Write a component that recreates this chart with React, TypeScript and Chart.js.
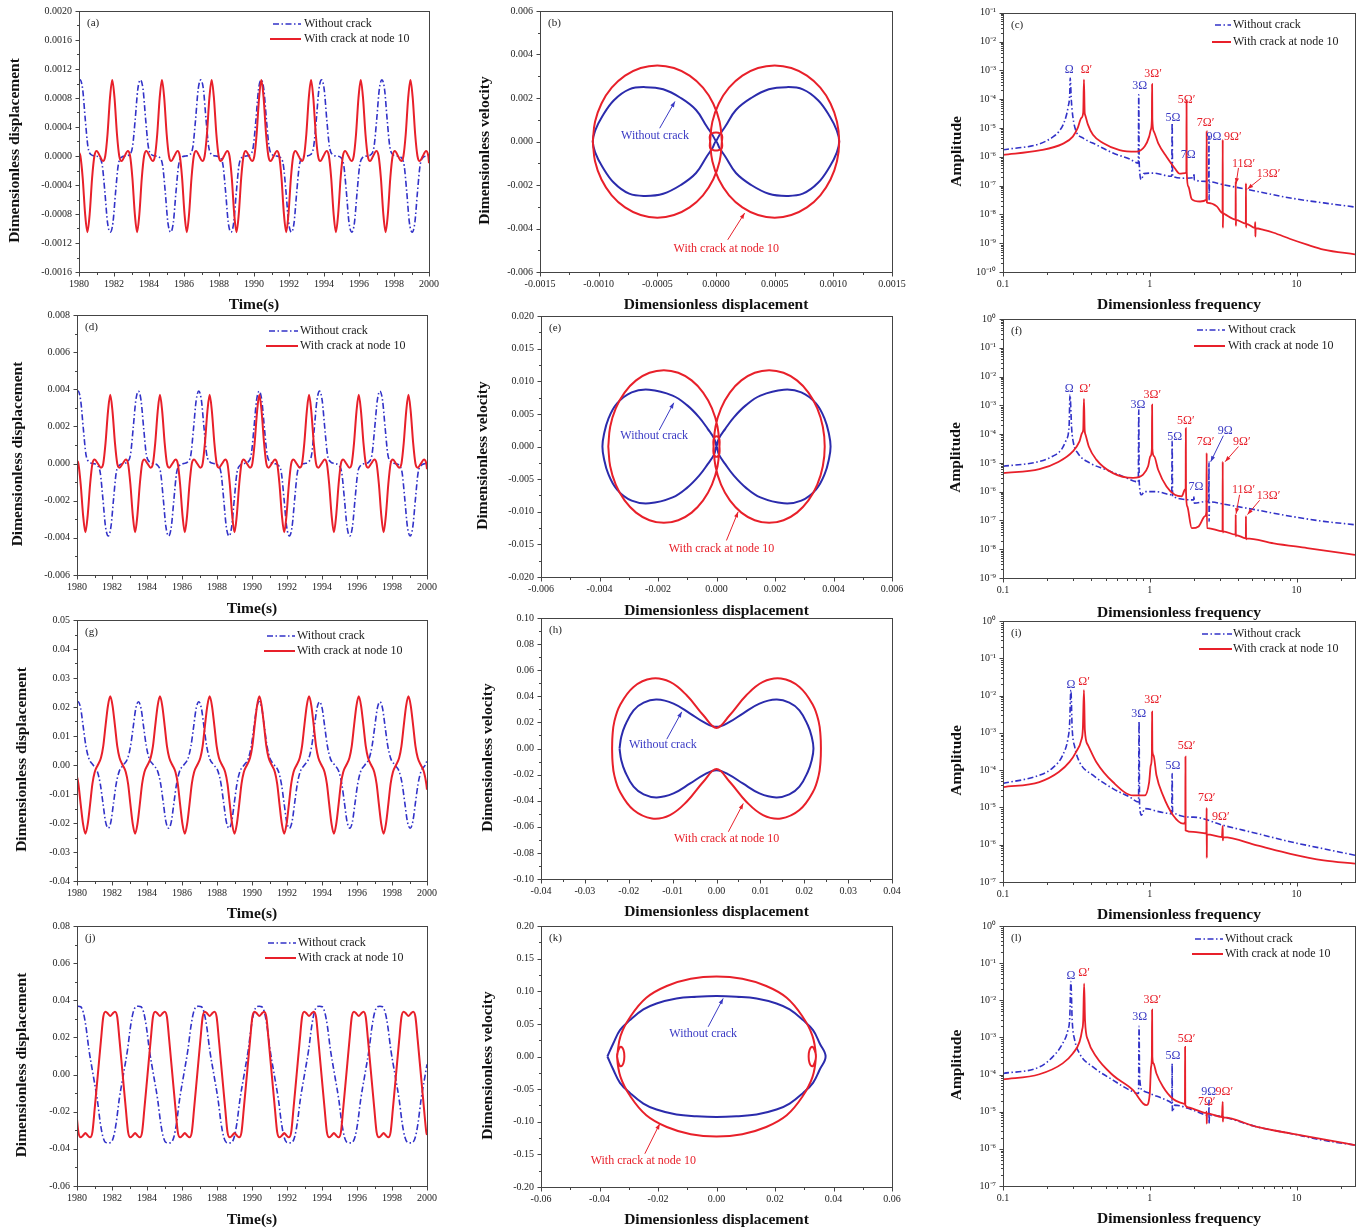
import React, { useEffect, useRef } from 'react';
import { Chart, registerables } from 'chart.js';

Chart.register(...registerables);

const SERIF = "'Liberation Serif', 'Times New Roman', Times, serif";
const BLUE = '#3232c8';
const BLUE_SOLID = '#2b2bac';
const RED = '#e8202a';
const FRAME = '#444';
const DASH_DOT = [6, 2.5, 1.5, 2.5];
const LEGEND_BLUE = 'Without crack';
const LEGEND_RED = 'With crack at node 10';

// ---------------- tick values ----------------
const timeTicks = [1980, 1982, 1984, 1986, 1988, 1990, 1992, 1994, 1996, 1998, 2000];
const freqTicks = [0.1, 1, 10];
const aYTicks = [-0.0016, -0.0012, -0.0008, -0.0004, 0, 0.0004, 0.0008, 0.0012, 0.0016, 0.002];
const bXTicks = [-0.0015, -0.001, -0.0005, 0, 0.0005, 0.001, 0.0015];
const bYTicks = [-0.006, -0.004, -0.002, 0, 0.002, 0.004, 0.006];
const cYTicks = [1e-10, 1e-9, 1e-8, 1e-7, 1e-6, 1e-5, 1e-4, 1e-3, 1e-2, 1e-1];
const dYTicks = [-0.006, -0.004, -0.002, 0, 0.002, 0.004, 0.006, 0.008];
const eXTicks = [-0.006, -0.004, -0.002, 0, 0.002, 0.004, 0.006];
const eYTicks = [-0.02, -0.015, -0.01, -0.005, 0, 0.005, 0.01, 0.015, 0.02];
const fYTicks = [1e-9, 1e-8, 1e-7, 1e-6, 1e-5, 1e-4, 1e-3, 1e-2, 1e-1, 1];
const gYTicks = [-0.04, -0.03, -0.02, -0.01, 0, 0.01, 0.02, 0.03, 0.04, 0.05];
const hXTicks = [-0.04, -0.03, -0.02, -0.01, 0, 0.01, 0.02, 0.03, 0.04];
const hYTicks = [-0.1, -0.08, -0.06, -0.04, -0.02, 0, 0.02, 0.04, 0.06, 0.08, 0.1];
const iYTicks = [1e-7, 1e-6, 1e-5, 1e-4, 1e-3, 1e-2, 1e-1, 1];
const jYTicks = [-0.06, -0.04, -0.02, 0, 0.02, 0.04, 0.06, 0.08];
const kXTicks = [-0.06, -0.04, -0.02, 0, 0.02, 0.04, 0.06];
const kYTicks = [-0.2, -0.15, -0.1, -0.05, 0, 0.05, 0.1, 0.15, 0.2];
const lYTicks = [1e-7, 1e-6, 1e-5, 1e-4, 1e-3, 1e-2, 1e-1, 1];

// ---------------- time series (a, d, g, j) ----------------
const redT = [
  1980.0, 1980.08, 1980.21, 1980.35,
  1980.48, 1980.61, 1980.75, 1980.88, 1981.01, 1981.19, 1981.37, 1981.5, 1981.63, 1981.77,
  1981.9, 1982.03, 1982.17, 1982.3, 1982.43, 1982.61, 1982.79, 1982.92, 1983.05, 1983.19,
  1983.32, 1983.45, 1983.59, 1983.72, 1983.85, 1984.03, 1984.21, 1984.34, 1984.47, 1984.61,
  1984.74, 1984.87, 1985.01, 1985.14, 1985.27, 1985.45, 1985.63, 1985.76, 1985.89, 1986.03,
  1986.16, 1986.29, 1986.43, 1986.56, 1986.69, 1986.87, 1987.05, 1987.18, 1987.31, 1987.45,
  1987.58, 1987.71, 1987.85, 1987.98, 1988.11, 1988.29, 1988.47, 1988.6, 1988.73, 1988.87,
  1989.0, 1989.13, 1989.27, 1989.4, 1989.53, 1989.71, 1989.89, 1990.02, 1990.15, 1990.29,
  1990.42, 1990.55, 1990.69, 1990.82, 1990.95, 1991.13, 1991.31, 1991.44, 1991.57, 1991.71,
  1991.84, 1991.97, 1992.11, 1992.24, 1992.37, 1992.55, 1992.73, 1992.86, 1992.99, 1993.13,
  1993.26, 1993.39, 1993.53, 1993.66, 1993.79, 1993.97, 1994.15, 1994.28, 1994.41, 1994.55,
  1994.68, 1994.81, 1994.95, 1995.08, 1995.21, 1995.39, 1995.57, 1995.7, 1995.83, 1995.97,
  1996.1, 1996.23, 1996.37, 1996.5, 1996.63, 1996.81, 1996.99, 1997.12, 1997.25, 1997.39,
  1997.52, 1997.65, 1997.79, 1997.92, 1998.05, 1998.23, 1998.41, 1998.54, 1998.67, 1998.81,
  1998.94, 1999.07, 1999.21, 1999.34, 1999.47, 1999.65, 1999.83, 1999.96, 2000.0,
];

const blueT = [
  1980.0,
  1980.06, 1980.21, 1980.36, 1980.51, 1980.68, 1980.92, 1981.16, 1981.33, 1981.48, 1981.63,
  1981.79, 1981.94, 1982.09, 1982.24, 1982.41, 1982.65, 1982.89, 1983.06, 1983.21, 1983.36,
  1983.51, 1983.66, 1983.81, 1983.96, 1984.13, 1984.37, 1984.61, 1984.78, 1984.93, 1985.08,
  1985.24, 1985.39, 1985.54, 1985.69, 1985.86, 1986.1, 1986.34, 1986.51, 1986.66, 1986.81,
  1986.96, 1987.11, 1987.26, 1987.41, 1987.58, 1987.82, 1988.06, 1988.23, 1988.38, 1988.53,
  1988.69, 1988.84, 1988.99, 1989.14, 1989.31, 1989.55, 1989.79, 1989.96, 1990.11, 1990.26,
  1990.41, 1990.56, 1990.71, 1990.86, 1991.03, 1991.27, 1991.51, 1991.68, 1991.83, 1991.98,
  1992.14, 1992.29, 1992.44, 1992.59, 1992.76, 1993.0, 1993.24, 1993.41, 1993.56, 1993.71,
  1993.86, 1994.01, 1994.16, 1994.31, 1994.48, 1994.72, 1994.96, 1995.13, 1995.28, 1995.43,
  1995.59, 1995.74, 1995.89, 1996.04, 1996.21, 1996.45, 1996.69, 1996.86, 1997.01, 1997.16,
  1997.31, 1997.46, 1997.61, 1997.76, 1997.93, 1998.17, 1998.41, 1998.58, 1998.73, 1998.88,
  1999.04, 1999.19, 1999.34, 1999.49, 1999.66, 1999.9, 2000.0,
];

const aRed = [
  0.00005, 0, -0.0003, -0.0008,
  -0.00105, -0.0008, -0.0003, 0, 0.00007, 0, -0.00007, 0, 0.0003, 0.0008,
  0.00105, 0.0008, 0.0003, 0, -0.00007, 0, 0.00007, 0, -0.0003, -0.0008,
  -0.00105, -0.0008, -0.0003, 0, 0.00007, 0, -0.00007, 0, 0.0003, 0.0008,
  0.00105, 0.0008, 0.0003, 0, -0.00007, 0, 0.00007, 0, -0.0003, -0.0008,
  -0.00105, -0.0008, -0.0003, 0, 0.00007, 0, -0.00007, 0, 0.0003, 0.0008,
  0.00105, 0.0008, 0.0003, 0, -0.00007, 0, 0.00007, 0, -0.0003, -0.0008,
  -0.00105, -0.0008, -0.0003, 0, 0.00007, 0, -0.00007, 0, 0.0003, 0.0008,
  0.00105, 0.0008, 0.0003, 0, -0.00007, 0, 0.00007, 0, -0.0003, -0.0008,
  -0.00105, -0.0008, -0.0003, 0, 0.00007, 0, -0.00007, 0, 0.0003, 0.0008,
  0.00105, 0.0008, 0.0003, 0, -0.00007, 0, 0.00007, 0, -0.0003, -0.0008,
  -0.00105, -0.0008, -0.0003, 0, 0.00007, 0, -0.00007, 0, 0.0003, 0.0008,
  0.00105, 0.0008, 0.0003, 0, -0.00007, 0, 0.00007, 0, -0.0003, -0.0008,
  -0.00105, -0.0008, -0.0003, 0, 0.00007, 0, -0.00007, 0, 0.0003, 0.0008,
  0.00105, 0.0008, 0.0003, 0, -0.00007, 0, 0.00007, 0, -0.0001,
];

const aBlue = [
  0.00104,
  0.00105, 0.00092, 0.0005, 0.00013, 0.00002, 0, -0.00002, -0.00013, -0.0005, -0.00092,
  -0.00105, -0.00092, -0.0005, -0.00013, -0.00002, 0, 0.00002, 0.00013, 0.0005, 0.00092,
  0.00105, 0.00092, 0.0005, 0.00013, 0.00002, 0, -0.00002, -0.00013, -0.0005, -0.00092,
  -0.00105, -0.00092, -0.0005, -0.00013, -0.00002, 0, 0.00002, 0.00013, 0.0005, 0.00092,
  0.00105, 0.00092, 0.0005, 0.00013, 0.00002, 0, -0.00002, -0.00013, -0.0005, -0.00092,
  -0.00105, -0.00092, -0.0005, -0.00013, -0.00002, 0, 0.00002, 0.00013, 0.0005, 0.00092,
  0.00105, 0.00092, 0.0005, 0.00013, 0.00002, 0, -0.00002, -0.00013, -0.0005, -0.00092,
  -0.00105, -0.00092, -0.0005, -0.00013, -0.00002, 0, 0.00002, 0.00013, 0.0005, 0.00092,
  0.00105, 0.00092, 0.0005, 0.00013, 0.00002, 0, -0.00002, -0.00013, -0.0005, -0.00092,
  -0.00105, -0.00092, -0.0005, -0.00013, -0.00002, 0, 0.00002, 0.00013, 0.0005, 0.00092,
  0.00105, 0.00092, 0.0005, 0.00013, 0.00002, 0, -0.00002, -0.00013, -0.0005, -0.00092,
  -0.00105, -0.00092, -0.0005, -0.00013, -0.00002, 0, 0.00001,
];

const dRed = [
  0.00015, 0, -0.0011, -0.0028,
  -0.0037, -0.0028, -0.0011, 0, 0.00022, 0, -0.00022, 0, 0.0011, 0.0028,
  0.0037, 0.0028, 0.0011, 0, -0.00022, 0, 0.00022, 0, -0.0011, -0.0028,
  -0.0037, -0.0028, -0.0011, 0, 0.00022, 0, -0.00022, 0, 0.0011, 0.0028,
  0.0037, 0.0028, 0.0011, 0, -0.00022, 0, 0.00022, 0, -0.0011, -0.0028,
  -0.0037, -0.0028, -0.0011, 0, 0.00022, 0, -0.00022, 0, 0.0011, 0.0028,
  0.0037, 0.0028, 0.0011, 0, -0.00022, 0, 0.00022, 0, -0.0011, -0.0028,
  -0.0037, -0.0028, -0.0011, 0, 0.00022, 0, -0.00022, 0, 0.0011, 0.0028,
  0.0037, 0.0028, 0.0011, 0, -0.00022, 0, 0.00022, 0, -0.0011, -0.0028,
  -0.0037, -0.0028, -0.0011, 0, 0.00022, 0, -0.00022, 0, 0.0011, 0.0028,
  0.0037, 0.0028, 0.0011, 0, -0.00022, 0, 0.00022, 0, -0.0011, -0.0028,
  -0.0037, -0.0028, -0.0011, 0, 0.00022, 0, -0.00022, 0, 0.0011, 0.0028,
  0.0037, 0.0028, 0.0011, 0, -0.00022, 0, 0.00022, 0, -0.0011, -0.0028,
  -0.0037, -0.0028, -0.0011, 0, 0.00022, 0, -0.00022, 0, 0.0011, 0.0028,
  0.0037, 0.0028, 0.0011, 0, -0.00022, 0, 0.00022, 0, -0.0003,
];

const dBlue = [
  0.00386,
  0.0039, 0.0034, 0.0019, 0.0005, 0.0001, 0, -0.0001, -0.0005, -0.0019, -0.0034,
  -0.0039, -0.0034, -0.0019, -0.0005, -0.0001, 0, 0.0001, 0.0005, 0.0019, 0.0034,
  0.0039, 0.0034, 0.0019, 0.0005, 0.0001, 0, -0.0001, -0.0005, -0.0019, -0.0034,
  -0.0039, -0.0034, -0.0019, -0.0005, -0.0001, 0, 0.0001, 0.0005, 0.0019, 0.0034,
  0.0039, 0.0034, 0.0019, 0.0005, 0.0001, 0, -0.0001, -0.0005, -0.0019, -0.0034,
  -0.0039, -0.0034, -0.0019, -0.0005, -0.0001, 0, 0.0001, 0.0005, 0.0019, 0.0034,
  0.0039, 0.0034, 0.0019, 0.0005, 0.0001, 0, -0.0001, -0.0005, -0.0019, -0.0034,
  -0.0039, -0.0034, -0.0019, -0.0005, -0.0001, 0, 0.0001, 0.0005, 0.0019, 0.0034,
  0.0039, 0.0034, 0.0019, 0.0005, 0.0001, 0, -0.0001, -0.0005, -0.0019, -0.0034,
  -0.0039, -0.0034, -0.0019, -0.0005, -0.0001, 0, 0.0001, 0.0005, 0.0019, 0.0034,
  0.0039, 0.0034, 0.0019, 0.0005, 0.0001, 0, -0.0001, -0.0005, -0.0019, -0.0034,
  -0.0039, -0.0034, -0.0019, -0.0005, -0.0001, 0, 0.00004,
];

const gRed = [
  -0.004, -0.0065, -0.0135, -0.0205,
  -0.0237, -0.0205, -0.0135, -0.0065, -0.0025, 0, 0.0025, 0.0065, 0.0135, 0.0205,
  0.0237, 0.0205, 0.0135, 0.0065, 0.0025, 0, -0.0025, -0.0065, -0.0135, -0.0205,
  -0.0237, -0.0205, -0.0135, -0.0065, -0.0025, 0, 0.0025, 0.0065, 0.0135, 0.0205,
  0.0237, 0.0205, 0.0135, 0.0065, 0.0025, 0, -0.0025, -0.0065, -0.0135, -0.0205,
  -0.0237, -0.0205, -0.0135, -0.0065, -0.0025, 0, 0.0025, 0.0065, 0.0135, 0.0205,
  0.0237, 0.0205, 0.0135, 0.0065, 0.0025, 0, -0.0025, -0.0065, -0.0135, -0.0205,
  -0.0237, -0.0205, -0.0135, -0.0065, -0.0025, 0, 0.0025, 0.0065, 0.0135, 0.0205,
  0.0237, 0.0205, 0.0135, 0.0065, 0.0025, 0, -0.0025, -0.0065, -0.0135, -0.0205,
  -0.0237, -0.0205, -0.0135, -0.0065, -0.0025, 0, 0.0025, 0.0065, 0.0135, 0.0205,
  0.0237, 0.0205, 0.0135, 0.0065, 0.0025, 0, -0.0025, -0.0065, -0.0135, -0.0205,
  -0.0237, -0.0205, -0.0135, -0.0065, -0.0025, 0, 0.0025, 0.0065, 0.0135, 0.0205,
  0.0237, 0.0205, 0.0135, 0.0065, 0.0025, 0, -0.0025, -0.0065, -0.0135, -0.0205,
  -0.0237, -0.0205, -0.0135, -0.0065, -0.0025, 0, 0.0025, 0.0065, 0.0135, 0.0205,
  0.0237, 0.0205, 0.0135, 0.0065, 0.0025, 0, -0.0025, -0.0065, -0.0085,
];

const gBlue = [
  0.0216,
  0.0218, 0.0195, 0.013, 0.0065, 0.0022, 0, -0.0022, -0.0065, -0.013, -0.0195,
  -0.0218, -0.0195, -0.013, -0.0065, -0.0022, 0, 0.0022, 0.0065, 0.013, 0.0195,
  0.0218, 0.0195, 0.013, 0.0065, 0.0022, 0, -0.0022, -0.0065, -0.013, -0.0195,
  -0.0218, -0.0195, -0.013, -0.0065, -0.0022, 0, 0.0022, 0.0065, 0.013, 0.0195,
  0.0218, 0.0195, 0.013, 0.0065, 0.0022, 0, -0.0022, -0.0065, -0.013, -0.0195,
  -0.0218, -0.0195, -0.013, -0.0065, -0.0022, 0, 0.0022, 0.0065, 0.013, 0.0195,
  0.0218, 0.0195, 0.013, 0.0065, 0.0022, 0, -0.0022, -0.0065, -0.013, -0.0195,
  -0.0218, -0.0195, -0.013, -0.0065, -0.0022, 0, 0.0022, 0.0065, 0.013, 0.0195,
  0.0218, 0.0195, 0.013, 0.0065, 0.0022, 0, -0.0022, -0.0065, -0.013, -0.0195,
  -0.0218, -0.0195, -0.013, -0.0065, -0.0022, 0, 0.0022, 0.0065, 0.013, 0.0195,
  0.0218, 0.0195, 0.013, 0.0065, 0.0022, 0, -0.0022, -0.0065, -0.013, -0.0195,
  -0.0218, -0.0195, -0.013, -0.0065, -0.0022, 0, 0.0015,
];

const jRed = [
  -0.024, -0.031, -0.0338, -0.0328,
  -0.0315, -0.0328, -0.0338, -0.031, -0.0185, 0, 0.0185, 0.031, 0.0338, 0.0328,
  0.0315, 0.0328, 0.0338, 0.031, 0.0185, 0, -0.0185, -0.031, -0.0338, -0.0328,
  -0.0315, -0.0328, -0.0338, -0.031, -0.0185, 0, 0.0185, 0.031, 0.0338, 0.0328,
  0.0315, 0.0328, 0.0338, 0.031, 0.0185, 0, -0.0185, -0.031, -0.0338, -0.0328,
  -0.0315, -0.0328, -0.0338, -0.031, -0.0185, 0, 0.0185, 0.031, 0.0338, 0.0328,
  0.0315, 0.0328, 0.0338, 0.031, 0.0185, 0, -0.0185, -0.031, -0.0338, -0.0328,
  -0.0315, -0.0328, -0.0338, -0.031, -0.0185, 0, 0.0185, 0.031, 0.0338, 0.0328,
  0.0315, 0.0328, 0.0338, 0.031, 0.0185, 0, -0.0185, -0.031, -0.0338, -0.0328,
  -0.0315, -0.0328, -0.0338, -0.031, -0.0185, 0, 0.0185, 0.031, 0.0338, 0.0328,
  0.0315, 0.0328, 0.0338, 0.031, 0.0185, 0, -0.0185, -0.031, -0.0338, -0.0328,
  -0.0315, -0.0328, -0.0338, -0.031, -0.0185, 0, 0.0185, 0.031, 0.0338, 0.0328,
  0.0315, 0.0328, 0.0338, 0.031, 0.0185, 0, -0.0185, -0.031, -0.0338, -0.0328,
  -0.0315, -0.0328, -0.0338, -0.031, -0.0185, 0, 0.0185, 0.031, 0.0338, 0.0328,
  0.0315, 0.0328, 0.0338, 0.031, 0.0185, 0, -0.0185, -0.031, -0.0325,
];

const jBlue = [
  0.0368,
  0.0368, 0.0365, 0.0335, 0.026, 0.0135, 0, -0.0135, -0.026, -0.0335, -0.0365,
  -0.0368, -0.0365, -0.0335, -0.026, -0.0135, 0, 0.0135, 0.026, 0.0335, 0.0365,
  0.0368, 0.0365, 0.0335, 0.026, 0.0135, 0, -0.0135, -0.026, -0.0335, -0.0365,
  -0.0368, -0.0365, -0.0335, -0.026, -0.0135, 0, 0.0135, 0.026, 0.0335, 0.0365,
  0.0368, 0.0365, 0.0335, 0.026, 0.0135, 0, -0.0135, -0.026, -0.0335, -0.0365,
  -0.0368, -0.0365, -0.0335, -0.026, -0.0135, 0, 0.0135, 0.026, 0.0335, 0.0365,
  0.0368, 0.0365, 0.0335, 0.026, 0.0135, 0, -0.0135, -0.026, -0.0335, -0.0365,
  -0.0368, -0.0365, -0.0335, -0.026, -0.0135, 0, 0.0135, 0.026, 0.0335, 0.0365,
  0.0368, 0.0365, 0.0335, 0.026, 0.0135, 0, -0.0135, -0.026, -0.0335, -0.0365,
  -0.0368, -0.0365, -0.0335, -0.026, -0.0135, 0, 0.0135, 0.026, 0.0335, 0.0365,
  0.0368, 0.0365, 0.0335, 0.026, 0.0135, 0, -0.0135, -0.026, -0.0335, -0.0365,
  -0.0368, -0.0365, -0.0335, -0.026, -0.0135, 0, 0.0055,
];

// ---------------- phase portraits (b, e, h, k) ----------------
const bBlueX = [
  0, 0.00003, 0.00008, 0.00017, 0.0003, 0.00045, 0.0006, 0.00074, 0.00087, 0.00097, 0.00103, 0.00105,
  0.00103, 0.00097, 0.00087, 0.00074, 0.0006, 0.00045, 0.0003, 0.00017, 0.00008, 0.00003, 0,
  -0.00003, -0.00008, -0.00017, -0.0003, -0.00045, -0.0006, -0.00074, -0.00087, -0.00097, -0.00103, -0.00105,
  -0.00103, -0.00097, -0.00087, -0.00074, -0.0006, -0.00045, -0.0003, -0.00017, -0.00008, -0.00003, 0,
];
const bBlueY = [
  0, 0.0003, 0.0007, 0.00145, 0.002, 0.0024, 0.0025, 0.0024, 0.0019, 0.00115, 0.0005, 0,
  -0.0005, -0.00115, -0.0019, -0.0024, -0.0025, -0.0024, -0.002, -0.00145, -0.0007, -0.0003, 0,
  -0.0003, -0.0007, -0.00145, -0.002, -0.0024, -0.0025, -0.0024, -0.0019, -0.00115, -0.0005, 0,
  0.0005, 0.00115, 0.0019, 0.0024, 0.0025, 0.0024, 0.002, 0.00145, 0.0007, 0.0003, 0,
];
const bRedX = [
  -0.00105, -0.001031, -0.000976, -0.000889, -0.000775, -0.000642, -0.0005, -0.000358, -0.000225, -0.000111, -0.000024, 0.000031, 0.00005,
  0.00005, 0.00002, -0.00002, -0.00005, -0.00005,
  -0.000031, 0.000024, 0.000111, 0.000225, 0.000358, 0.0005, 0.000642, 0.000775, 0.000889, 0.000976, 0.001031, 0.00105,
  0.001031, 0.000976, 0.000889, 0.000775, 0.000642, 0.0005, 0.000358, 0.000225, 0.000111, 0.000024, -0.000031, -0.00005,
  -0.00005, -0.00002, 0.00002, 0.00005, 0.00005,
  0.000031, -0.000024, -0.000111, -0.000225, -0.000358, -0.0005, -0.000642, -0.000775, -0.000889, -0.000976, -0.001031, -0.00105,
];
const bRedY = [
  0, 0.000906, 0.00175, 0.002475, 0.00303, 0.00338, 0.0035, 0.00338, 0.00303, 0.002475, 0.00175, 0.000906, 0,
  -0.0003, -0.0004, -0.0004, -0.0003, 0,
  0.000906, 0.00175, 0.002475, 0.00303, 0.00338, 0.0035, 0.00338, 0.00303, 0.002475, 0.00175, 0.000906, 0,
  -0.000906, -0.00175, -0.002475, -0.00303, -0.00338, -0.0035, -0.00338, -0.00303, -0.002475, -0.00175, -0.000906, 0,
  0.0003, 0.0004, 0.0004, 0.0003, 0,
  -0.000906, -0.00175, -0.002475, -0.00303, -0.00338, -0.0035, -0.00338, -0.00303, -0.002475, -0.00175, -0.000906, 0,
];

const eBlueX = [
  0, 0.00008, 0.0003, 0.0006, 0.001, 0.0015, 0.0023, 0.0029, 0.0034, 0.0037, 0.00385, 0.0039,
  0.00385, 0.0037, 0.0034, 0.0029, 0.0023, 0.0015, 0.001, 0.0006, 0.0003, 0.00008, 0,
  -0.00008, -0.0003, -0.0006, -0.001, -0.0015, -0.0023, -0.0029, -0.0034, -0.0037, -0.00385, -0.0039,
  -0.00385, -0.0037, -0.0034, -0.0029, -0.0023, -0.0015, -0.001, -0.0006, -0.0003, -0.00008, 0,
];
const eBlueY = [
  0, 0.0012, 0.0027, 0.0045, 0.0063, 0.0078, 0.0087, 0.0083, 0.0066, 0.0042, 0.0018, 0,
  -0.0018, -0.0042, -0.0066, -0.0083, -0.0087, -0.0078, -0.0063, -0.0045, -0.0027, -0.0012, 0,
  -0.0012, -0.0027, -0.0045, -0.0063, -0.0078, -0.0087, -0.0083, -0.0066, -0.0042, -0.0018, 0,
  0.0018, 0.0042, 0.0066, 0.0083, 0.0087, 0.0078, 0.0063, 0.0045, 0.0027, 0.0012, 0,
];
const eRedX = [
  -0.0037, -0.003635, -0.003445, -0.003143, -0.00275, -0.002292, -0.0018, -0.001308, -0.00085, -0.000457, -0.000155, 0.000035, 0.0001,
  0.0001, 0.00004, -0.00004, -0.0001, -0.0001,
  -0.000035, 0.000155, 0.000457, 0.00085, 0.001308, 0.0018, 0.002292, 0.00275, 0.003143, 0.003445, 0.003635, 0.0037,
  0.003635, 0.003445, 0.003143, 0.00275, 0.002292, 0.0018, 0.001308, 0.00085, 0.000457, 0.000155, -0.000035, -0.0001,
  -0.0001, -0.00004, 0.00004, 0.0001, 0.0001,
  0.000035, -0.000155, -0.000457, -0.00085, -0.001308, -0.0018, -0.002292, -0.00275, -0.003143, -0.003445, -0.003635, -0.0037,
];
const eRedY = [
  0, 0.00303, 0.00585, 0.00827, 0.01013, 0.0113, 0.0117, 0.0113, 0.01013, 0.00827, 0.00585, 0.00303, 0,
  -0.0011, -0.0015, -0.0015, -0.0011, 0,
  0.00303, 0.00585, 0.00827, 0.01013, 0.0113, 0.0117, 0.0113, 0.01013, 0.00827, 0.00585, 0.00303, 0,
  -0.00303, -0.00585, -0.00827, -0.01013, -0.0113, -0.0117, -0.0113, -0.01013, -0.00827, -0.00585, -0.00303, 0,
  0.0011, 0.0015, 0.0015, 0.0011, 0,
  -0.00303, -0.00585, -0.00827, -0.01013, -0.0113, -0.0117, -0.0113, -0.01013, -0.00827, -0.00585, -0.00303, 0,
];

const hBlueX = [
  -0.0221, -0.0217, -0.0208, -0.0189, -0.0166, -0.0136, -0.0098, -0.006, -0.003, 0, 0.003, 0.006, 0.0098, 0.0136, 0.0166, 0.0189, 0.0208, 0.0217, 0.0221,
  0.0217, 0.0208, 0.0189, 0.0166, 0.0136, 0.0098, 0.006, 0.003, 0, -0.003, -0.006, -0.0098, -0.0136, -0.0166, -0.0189, -0.0208, -0.0217, -0.0221,
];
const hBlueY = [
  0, 0.009, 0.018, 0.0293, 0.0352, 0.0375, 0.0344, 0.0268, 0.0204, 0.0166, 0.0204, 0.0268, 0.0344, 0.0375, 0.0352, 0.0293, 0.018, 0.009, 0,
  -0.009, -0.018, -0.0293, -0.0352, -0.0375, -0.0344, -0.0268, -0.0204, -0.0166, -0.0204, -0.0268, -0.0344, -0.0375, -0.0352, -0.0293, -0.018, -0.009, 0,
];
const hRedX = [
  -0.0238, -0.0237, -0.0233, -0.022, -0.0189, -0.0147, -0.0106, -0.0068, -0.003, 0, 0.003, 0.0068, 0.0106, 0.0147, 0.0189, 0.022, 0.0233, 0.0237, 0.0238,
  0.0237, 0.0233, 0.022, 0.0189, 0.0147, 0.0106, 0.0068, 0.003, 0, -0.003, -0.0068, -0.0106, -0.0147, -0.0189, -0.022, -0.0233, -0.0237, -0.0238,
];
const hRedY = [
  0, 0.01, 0.0204, 0.0332, 0.0472, 0.0536, 0.051, 0.0408, 0.0255, 0.0158, 0.0255, 0.0408, 0.051, 0.0536, 0.0472, 0.0332, 0.0204, 0.01, 0,
  -0.01, -0.0204, -0.0332, -0.0472, -0.0536, -0.051, -0.0408, -0.0255, -0.0158, -0.0255, -0.0408, -0.051, -0.0536, -0.0472, -0.0332, -0.0204, -0.01, 0,
];

const kBlueX = [
  -0.0373, -0.0353, -0.033, -0.0296, -0.025, -0.0205, -0.0137, -0.0068, 0, 0.0068, 0.0137, 0.0205, 0.025, 0.0296, 0.033, 0.0353, 0.0373,
  0.0353, 0.033, 0.0296, 0.025, 0.0205, 0.0137, 0.0068, 0, -0.0068, -0.0137, -0.0205, -0.025, -0.0296, -0.033, -0.0353, -0.0373,
];
const kBlueY = [
  0, 0.02, 0.0404, 0.0558, 0.0721, 0.0813, 0.089, 0.0916, 0.0926, 0.0916, 0.089, 0.0813, 0.0721, 0.0558, 0.0404, 0.02, 0,
  -0.02, -0.0404, -0.0558, -0.0721, -0.0813, -0.089, -0.0916, -0.0926, -0.0916, -0.089, -0.0813, -0.0721, -0.0558, -0.0404, -0.02, 0,
];
const kRedX = [
  -0.034, -0.0328, -0.0294, -0.024, -0.017, -0.0088, 0, 0.0088, 0.017, 0.024, 0.0294, 0.0328, 0.034,
  0.0335, 0.0327, 0.0318, 0.0315, 0.0318, 0.0327, 0.0335, 0.034,
  0.0328, 0.0294, 0.024, 0.017, 0.0088, 0, -0.0088, -0.017, -0.024, -0.0294, -0.0328, -0.034,
  -0.0335, -0.0327, -0.0318, -0.0315, -0.0318, -0.0327, -0.0335, -0.034,
];
const kRedY = [
  0, 0.0317, 0.0613, 0.09, 0.108, 0.119, 0.1225, 0.119, 0.108, 0.09, 0.0613, 0.0317, 0,
  -0.01, -0.015, -0.01, 0, 0.01, 0.015, 0.01, 0,
  -0.0317, -0.0613, -0.09, -0.108, -0.119, -0.1225, -0.119, -0.108, -0.09, -0.0613, -0.0317, 0,
  0.01, 0.015, 0.01, 0, -0.01, -0.015, -0.01, 0,
];

// ---------------- amplitude spectra (c, f, i, l) ----------------
const cBlueF = [0.1, 0.177, 0.218, 0.241, 0.262, 0.278, 0.285, 0.287, 0.292, 0.299, 0.315, 0.35, 0.432, 0.561, 0.73, 0.835, 0.841, 0.847, 0.877, 0.91, 1.05, 1.41, 1.42, 1.43, 1.78, 1.99, 2.0, 2.01, 2.44, 2.52, 2.53, 2.535, 2.55, 3.17, 5.37, 9.06, 15.3, 25];
const cBlueA = [1.75e-6, 2.8e-6, 4.8e-6, 7.6e-6, 1.66e-5, 5.5e-5, 1.6e-4, 5.4e-4, 9.3e-5, 2.5e-5, 7.6e-6, 4.5e-6, 2.6e-6, 1.35e-6, 8.3e-7, 6e-7, 1.4e-4, 6e-7, 1.6e-7, 2.6e-7, 2.7e-7, 2.1e-7, 1.5e-5, 2.1e-7, 1.8e-7, 1.9e-7, 2.7e-7, 1.6e-7, 1.4e-7, 1.3e-7, 5e-6, 3.2e-8, 1.35e-7, 1.07e-7, 6.3e-8, 3.7e-8, 2.5e-8, 1.8e-8];
const cRedF = [0.1, 0.177, 0.255, 0.299, 0.323, 0.341, 0.352, 0.356, 0.36, 0.363, 0.379, 0.41, 0.48, 0.623, 0.81, 0.924, 0.99, 1.016, 1.033, 1.037, 1.041, 1.065, 1.14, 1.3, 1.48, 1.6, 1.74, 1.775, 1.78, 1.785, 1.83, 1.93, 2.2, 2.43, 2.44, 2.45, 2.48, 2.86, 3.13, 3.14, 3.145, 3.16, 3.26, 3.84, 3.85, 3.855, 3.87, 4.51, 4.52, 4.525, 4.54, 5.2, 5.23, 5.24, 5.26, 5.96, 6.98, 9.06, 11.8, 15.3, 25];
const cRedA = [1.17e-6, 1.66e-6, 2.8e-6, 5e-6, 1e-5, 2.2e-5, 3.5e-5, 4.7e-4, 3.5e-5, 2.8e-5, 1.3e-5, 5.8e-6, 3e-6, 1.7e-6, 1.5e-6, 2.3e-6, 5e-6, 8.7e-6, 2e-5, 3.3e-4, 2e-5, 7.6e-6, 3e-6, 1e-6, 4e-7, 2.6e-7, 2.7e-7, 3e-7, 9.3e-5, 3e-7, 9.3e-8, 3.4e-8, 2.8e-8, 3.2e-8, 7.6e-6, 2.6e-8, 2.5e-8, 1.9e-8, 1.1e-8, 3.9e-6, 3.4e-9, 1.1e-8, 1e-8, 6.6e-9, 1.4e-7, 4e-9, 6.4e-9, 4.8e-9, 1.2e-7, 3.5e-9, 4.7e-9, 3.4e-9, 5.4e-9, 1.7e-9, 3.3e-9, 2.9e-9, 2.3e-9, 1.4e-9, 8.9e-10, 6e-10, 4.1e-10];

const fBlueF = [0.1, 0.177, 0.218, 0.25, 0.27, 0.282, 0.286, 0.294, 0.302, 0.323, 0.389, 0.505, 0.657, 0.835, 0.841, 0.847, 0.877, 0.92, 1.11, 1.41, 1.42, 1.43, 1.99, 2.0, 2.01, 2.44, 2.52, 2.53, 2.535, 2.55, 3.17, 5.37, 9.06, 15.3, 25];
const fBlueA = [7.6e-6, 1.12e-5, 1.7e-5, 2.9e-5, 6.4e-5, 1.9e-4, 2.3e-3, 1.4e-4, 4.9e-5, 2.2e-5, 1e-5, 5.8e-6, 3.4e-6, 2.2e-6, 7e-4, 2.2e-6, 7.8e-7, 1e-6, 1e-6, 7.8e-7, 5.6e-5, 6.9e-7, 5.2e-7, 7e-7, 4e-7, 4.6e-7, 4.4e-7, 1.1e-5, 9.3e-8, 4.4e-7, 3.7e-7, 2.3e-7, 1.4e-7, 9.3e-8, 7.1e-8];
const fRedF = [0.1, 0.177, 0.24, 0.299, 0.332, 0.346, 0.352, 0.356, 0.36, 0.365, 0.384, 0.432, 0.561, 0.769, 0.9, 0.974, 1.01, 1.033, 1.037, 1.041, 1.07, 1.14, 1.3, 1.48, 1.65, 1.74, 1.755, 1.76, 1.765, 1.8, 1.93, 2.15, 2.38, 2.43, 2.44, 2.45, 2.48, 3.13, 3.14, 3.145, 3.16, 3.84, 3.85, 3.855, 3.87, 4.51, 4.52, 4.525, 4.54, 6.98, 11.8, 25];
const fRedA = [4.4e-6, 6.1e-6, 1.1e-5, 2.5e-5, 5.6e-5, 1.1e-4, 1.4e-4, 1.66e-3, 1.4e-4, 9.5e-5, 3.7e-5, 1.3e-5, 4.4e-6, 3e-6, 3.9e-6, 7.6e-6, 1.7e-5, 3e-5, 1.05e-3, 3e-5, 1.7e-5, 5.8e-6, 1.5e-6, 7.8e-7, 6.9e-7, 1.2e-6, 1.3e-6, 1.6e-4, 1e-6, 3.1e-7, 5.4e-8, 6.2e-8, 1.4e-7, 2e-7, 2.2e-5, 5.4e-8, 5.4e-8, 4.2e-8, 1.1e-5, 3.8e-8, 4.2e-8, 3.2e-8, 1.6e-7, 2.8e-8, 3.1e-8, 2.4e-8, 1.4e-7, 2.2e-8, 2.4e-8, 1.6e-8, 1.1e-8, 6.4e-9];

const iBlueF = [0.1, 0.177, 0.218, 0.255, 0.277, 0.284, 0.29, 0.296, 0.308, 0.332, 0.41, 0.561, 0.73, 0.838, 0.845, 0.852, 0.877, 0.924, 1.17, 1.41, 1.42, 1.43, 1.98, 3.17, 5.37, 9.06, 15.3, 25];
const iBlueA = [4.4e-5, 7.3e-5, 1.15e-4, 2.5e-4, 7e-4, 1.6e-3, 1.4e-2, 1.3e-3, 4.2e-4, 1.66e-4, 7.3e-5, 3.2e-5, 1.9e-5, 1.4e-5, 2e-3, 1.2e-5, 6.2e-6, 9.3e-6, 7.6e-6, 6.8e-6, 8.1e-5, 7.6e-6, 5.5e-6, 3.3e-6, 2e-6, 1.2e-6, 7.8e-7, 5.2e-7];
const iRedF = [0.1, 0.177, 0.24, 0.284, 0.315, 0.341, 0.35, 0.356, 0.361, 0.379, 0.432, 0.561, 0.769, 0.924, 0.99, 1.016, 1.033, 1.037, 1.041, 1.06, 1.11, 1.23, 1.44, 1.69, 1.745, 1.75, 1.755, 1.98, 2.43, 2.44, 2.445, 2.45, 3.1, 3.14, 3.145, 3.16, 5.37, 9.06, 15.3, 25];
const iRedA = [3.5e-5, 4.8e-5, 8.9e-5, 1.66e-4, 3.1e-4, 6.3e-4, 1.3e-3, 1.4e-2, 1.2e-3, 4.7e-4, 1.66e-4, 4.8e-5, 2.1e-5, 2.1e-5, 4.8e-5, 1.35e-4, 2.5e-4, 3.7e-3, 3.5e-4, 2.5e-4, 7.3e-5, 2.1e-5, 6.2e-6, 3.7e-6, 4.1e-6, 2.3e-4, 2.4e-6, 2.2e-6, 2e-6, 9.7e-6, 4.4e-7, 1.9e-6, 1.6e-6, 3.2e-6, 1.3e-6, 1.6e-6, 9.6e-7, 5.7e-7, 3.8e-7, 3.1e-7];

const lBlueF = [0.1, 0.177, 0.218, 0.255, 0.277, 0.285, 0.29, 0.296, 0.308, 0.332, 0.41, 0.561, 0.73, 0.838, 0.845, 0.852, 0.89, 1.0, 1.37, 1.415, 1.42, 1.425, 1.48, 1.98, 2.525, 2.53, 2.535, 2.55, 3.17, 5.37, 9.06, 15.3, 25];
const lBlueA = [1.07e-4, 1.6e-4, 3e-4, 6.9e-4, 1.6e-3, 3.5e-3, 3.2e-2, 2.9e-3, 8.5e-4, 3.7e-4, 1.6e-4, 7.1e-5, 3.8e-5, 3.1e-5, 2e-3, 8.7e-5, 3.8e-5, 3.1e-5, 1.85e-5, 1.7e-5, 2e-4, 1e-5, 1.5e-5, 1.1e-5, 8e-6, 2e-5, 4.8e-6, 8e-6, 7.2e-6, 3.9e-6, 2.6e-6, 1.7e-6, 1.26e-6];
const lRedF = [0.1, 0.177, 0.255, 0.299, 0.332, 0.346, 0.352, 0.357, 0.362, 0.379, 0.432, 0.561, 0.769, 0.9, 0.95, 1.0, 1.02, 1.033, 1.037, 1.041, 1.06, 1.11, 1.23, 1.44, 1.69, 1.735, 1.74, 1.745, 1.83, 1.98, 2.43, 2.44, 2.445, 2.45, 3.1, 3.14, 3.145, 3.16, 5.37, 9.06, 15.3, 25];
const lRedA = [7.4e-5, 1.02e-4, 2e-4, 3.7e-4, 7.6e-4, 1.6e-3, 2.9e-3, 2.8e-2, 2.9e-3, 8.5e-4, 3e-4, 9.6e-5, 3.8e-5, 1.66e-5, 1.5e-5, 3.1e-5, 1.6e-4, 3e-4, 5.6e-3, 3e-4, 2e-4, 1.07e-4, 4.7e-5, 2.2e-5, 1.66e-5, 1.6e-5, 5.6e-4, 1.5e-5, 1.3e-5, 1.2e-5, 9.3e-6, 1e-5, 4.8e-6, 9e-6, 7.2e-6, 1.85e-5, 5.4e-6, 7e-6, 3.9e-6, 2.6e-6, 1.8e-6, 1.26e-6];

// ---------------- helpers ----------------
type Pt = { x: number; y: number };
type Ann = { t: string; x: number; y: number; c: string };
type Arrow = { x0: number; y0: number; x1: number; y1: number; c: string };
type Legend = { x0: number; x1: number; tx: number; y1: number; y2: number };
type Panel = {
  tag: string;
  col: number;
  plot: [number, number, number, number];
  yTitleX: number;
  xTitleY: number;
  kind: 'time' | 'phase' | 'fft';
  xTitle: string;
  yTitle: string;
  xMin: number; xMax: number; yMin: number; yMax: number;
  xTicks: number[]; yTicks: number[];
  xDec: number; yDec: number;
  blue: Pt[]; red: Pt[];
  legend?: Legend;
  anns: Ann[];
  arrows: Arrow[];
};

const pts = (xs: number[], ys: number[]): Pt[] => {
  const n = Math.min(xs.length, ys.length);
  const out: Pt[] = [];
  for (let i = 0; i < n; i++) out.push({ x: xs[i], y: ys[i] });
  return out;
};

const SUP: Record<string, string> = { '-': '\u207B', '0': '\u2070', '1': '\u00B9', '2': '\u00B2', '3': '\u00B3', '4': '\u2074', '5': '\u2075', '6': '\u2076', '7': '\u2077', '8': '\u2078', '9': '\u2079' };
const powLabel = (v: number) => '10' + String(Math.round(Math.log10(v))).split('').map((c) => SUP[c] ?? c).join('');
const fixed = (dec: number) => (v: number) => (Math.abs(v) < 1e-12 ? 0 : v).toFixed(dec);

const BL = '#3a3ac4';
const RL = RED;
const O = '\u03A9';
const OP = '\u03A9\u2032';
const TITLE_FONT = `bold 15.5px ${SERIF}`;

const COLS = [{ x: 0, w: 445 }, { x: 470, w: 440 }, { x: 940, w: 420 }];

const panels: Panel[] = [
  {
    tag: '(a)', col: 0, plot: [79, 11, 429, 272], yTitleX: 15, xTitleY: 305, kind: 'time',
    xTitle: 'Time(s)', yTitle: 'Dimensionless displacement',
    xMin: 1980, xMax: 2000, yMin: -0.0016, yMax: 0.002, xTicks: timeTicks, yTicks: aYTicks, xDec: 0, yDec: 4,
    blue: pts(blueT, aBlue), red: pts(redT, aRed),
    legend: { x0: 273, x1: 301, tx: 304, y1: 24, y2: 39 }, anns: [], arrows: [],
  },
  {
    tag: '(b)', col: 1, plot: [540, 11, 892, 272], yTitleX: 485, xTitleY: 305, kind: 'phase',
    xTitle: 'Dimensionless displacement', yTitle: 'Dimensionless velocity',
    xMin: -0.0015, xMax: 0.0015, yMin: -0.006, yMax: 0.006, xTicks: bXTicks, yTicks: bYTicks, xDec: 4, yDec: 3,
    blue: pts(bBlueX, bBlueY), red: pts(bRedX, bRedY),
    anns: [
      { t: LEGEND_BLUE, x: -0.00052, y: 0.00026, c: BL },
      { t: LEGEND_RED, x: 0.000088, y: -0.00495, c: RL },
    ],
    arrows: [
      { x0: -0.00048, y0: 0.00061, x1: -0.00035, y1: 0.00184, c: BL },
      { x0: 0.0001, y0: -0.00452, x1: 0.000244, y1: -0.00329, c: RL },
    ],
  },
  {
    tag: '(c)', col: 2, plot: [1003, 12.7, 1355, 272], yTitleX: 957, xTitleY: 305, kind: 'fft',
    xTitle: 'Dimensionless frequency', yTitle: 'Amplitude',
    xMin: 0.1, xMax: 25, yMin: 1e-10, yMax: 1e-1, xTicks: freqTicks, yTicks: cYTicks, xDec: 1, yDec: 0,
    blue: pts(cBlueF, cBlueA), red: pts(cRedF, cRedA),
    legend: { x0: 1215, x1: 1231, tx: 1233, y1: 25, y2: 42 },
    anns: [
      { t: O, x: 0.283, y: 1.0e-3, c: BL }, { t: OP, x: 0.37, y: 1.0e-3, c: RL },
      { t: '3' + O, x: 0.854, y: 2.9e-4, c: BL }, { t: '3' + OP, x: 1.054, y: 7.6e-4, c: RL },
      { t: '5' + OP, x: 1.78, y: 9.4e-5, c: RL }, { t: '5' + O, x: 1.44, y: 2.2e-5, c: BL },
      { t: '7' + OP, x: 2.4, y: 1.55e-5, c: RL }, { t: '7' + O, x: 1.83, y: 1.17e-6, c: BL },
      { t: '9' + O, x: 2.74, y: 5e-6, c: BL }, { t: '9' + OP, x: 3.68, y: 5e-6, c: RL },
      { t: '11' + OP, x: 4.35, y: 5.8e-7, c: RL }, { t: '13' + OP, x: 6.45, y: 2.6e-7, c: RL },
    ],
    arrows: [
      { x0: 4.02, y0: 4.1e-7, x1: 3.87, y1: 1.15e-7, c: RL },
      { x0: 5.71, y0: 1.8e-7, x1: 4.63, y1: 7.6e-8, c: RL },
    ],
  },
  {
    tag: '(d)', col: 0, plot: [77, 315, 427, 575], yTitleX: 18, xTitleY: 609, kind: 'time',
    xTitle: 'Time(s)', yTitle: 'Dimensionless displacement',
    xMin: 1980, xMax: 2000, yMin: -0.006, yMax: 0.008, xTicks: timeTicks, yTicks: dYTicks, xDec: 0, yDec: 3,
    blue: pts(blueT, dBlue), red: pts(redT, dRed),
    legend: { x0: 269, x1: 298, tx: 300, y1: 331, y2: 346 }, anns: [], arrows: [],
  },
  {
    tag: '(e)', col: 1, plot: [541, 316, 892, 577], yTitleX: 483, xTitleY: 611, kind: 'phase',
    xTitle: 'Dimensionless displacement', yTitle: 'Dimensionless velocity',
    xMin: -0.006, xMax: 0.006, yMin: -0.02, yMax: 0.02, xTicks: eXTicks, yTicks: eYTicks, xDec: 3, yDec: 3,
    blue: pts(eBlueX, eBlueY), red: pts(eRedX, eRedY),
    anns: [
      { t: LEGEND_BLUE, x: -0.00213, y: 0.00159, c: BL },
      { t: LEGEND_RED, x: 0.00017, y: -0.01565, c: RL },
    ],
    arrows: [
      { x0: -0.00196, y0: 0.0025, x1: -0.00146, y1: 0.0067, c: BL },
      { x0: 0.00034, y0: -0.0144, x1: 0.00074, y1: -0.01, c: RL },
    ],
  },
  {
    tag: '(f)', col: 2, plot: [1003, 319, 1355, 578], yTitleX: 956, xTitleY: 613, kind: 'fft',
    xTitle: 'Dimensionless frequency', yTitle: 'Amplitude',
    xMin: 0.1, xMax: 25, yMin: 1e-9, yMax: 1, xTicks: freqTicks, yTicks: fYTicks, xDec: 1, yDec: 0,
    blue: pts(fBlueF, fBlueA), red: pts(fRedF, fRedA),
    legend: { x0: 1197, x1: 1225, tx: 1228, y1: 330, y2: 346 },
    anns: [
      { t: O, x: 0.283, y: 3.7e-3, c: BL }, { t: OP, x: 0.362, y: 3.7e-3, c: RL },
      { t: '3' + O, x: 0.832, y: 1.05e-3, c: BL }, { t: '3' + OP, x: 1.04, y: 2.3e-3, c: RL },
      { t: '5' + OP, x: 1.76, y: 2.8e-4, c: RL }, { t: '5' + O, x: 1.48, y: 7.9e-5, c: BL },
      { t: '7' + OP, x: 2.4, y: 5.2e-5, c: RL }, { t: '7' + O, x: 2.06, y: 1.5e-6, c: BL },
      { t: '9' + O, x: 3.27, y: 1.35e-4, c: BL }, { t: '9' + OP, x: 4.24, y: 5.2e-5, c: RL },
      { t: '11' + OP, x: 4.35, y: 1.17e-6, c: RL }, { t: '13' + OP, x: 6.45, y: 7.4e-7, c: RL },
    ],
    arrows: [
      { x0: 3.17, y0: 8.8e-5, x1: 2.6, y1: 1.1e-5, c: BL },
      { x0: 4.02, y0: 3.7e-5, x1: 3.26, y1: 1.1e-5, c: RL },
      { x0: 4.09, y0: 7.8e-7, x1: 3.87, y1: 1.7e-7, c: RL },
      { x0: 5.6, y0: 5e-7, x1: 4.63, y1: 1.6e-7, c: RL },
    ],
  },
  {
    tag: '(g)', col: 0, plot: [77, 620, 427, 881], yTitleX: 22, xTitleY: 914, kind: 'time',
    xTitle: 'Time(s)', yTitle: 'Dimensionless displacement',
    xMin: 1980, xMax: 2000, yMin: -0.04, yMax: 0.05, xTicks: timeTicks, yTicks: gYTicks, xDec: 0, yDec: 2,
    blue: pts(blueT, gBlue), red: pts(redT, gRed),
    legend: { x0: 267, x1: 295, tx: 297, y1: 636, y2: 651 }, anns: [], arrows: [],
  },
  {
    tag: '(h)', col: 1, plot: [541, 618, 892, 879], yTitleX: 488, xTitleY: 912, kind: 'phase',
    xTitle: 'Dimensionless displacement', yTitle: 'Dimensionless velocity',
    xMin: -0.04, xMax: 0.04, yMin: -0.1, yMax: 0.1, xTicks: hXTicks, yTicks: hYTicks, xDec: 2, yDec: 2,
    blue: pts(hBlueX, hBlueY), red: pts(hRedX, hRedY),
    anns: [
      { t: LEGEND_BLUE, x: -0.01224, y: 0.00255, c: BL },
      { t: LEGEND_RED, x: 0.00231, y: -0.0694, c: RL },
    ],
    arrows: [
      { x0: -0.01133, y0: 0.00714, x1: -0.00792, y1: 0.0281, c: BL },
      { x0: 0.0027, y0: -0.0638, x1: 0.0061, y1: -0.0421, c: RL },
    ],
  },
  {
    tag: '(i)', col: 2, plot: [1003, 621, 1355, 882], yTitleX: 957, xTitleY: 915, kind: 'fft',
    xTitle: 'Dimensionless frequency', yTitle: 'Amplitude',
    xMin: 0.1, xMax: 25, yMin: 1e-7, yMax: 1, xTicks: freqTicks, yTicks: iYTicks, xDec: 1, yDec: 0,
    blue: pts(iBlueF, iBlueA), red: pts(iRedF, iRedA),
    legend: { x0: 1202, x1: 1232, tx: 1233, y1: 634, y2: 649 },
    anns: [
      { t: O, x: 0.29, y: 1.9e-2, c: BL }, { t: OP, x: 0.357, y: 2.3e-2, c: RL },
      { t: '3' + O, x: 0.84, y: 3.3e-3, c: BL }, { t: '3' + OP, x: 1.054, y: 7.6e-3, c: RL },
      { t: '5' + OP, x: 1.78, y: 4.5e-4, c: RL }, { t: '5' + O, x: 1.44, y: 1.3e-4, c: BL },
      { t: '7' + OP, x: 2.44, y: 1.8e-5, c: RL }, { t: '9' + OP, x: 3.05, y: 5.5e-6, c: RL },
    ],
    arrows: [],
  },
  {
    tag: '(j)', col: 0, plot: [77, 926, 427, 1186], yTitleX: 22, xTitleY: 1220, kind: 'time',
    xTitle: 'Time(s)', yTitle: 'Dimensionless displacement',
    xMin: 1980, xMax: 2000, yMin: -0.06, yMax: 0.08, xTicks: timeTicks, yTicks: jYTicks, xDec: 0, yDec: 2,
    blue: pts(blueT, jBlue), red: pts(redT, jRed),
    legend: { x0: 268, x1: 296, tx: 298, y1: 943, y2: 958 }, anns: [], arrows: [],
  },
  {
    tag: '(k)', col: 1, plot: [541, 926, 892, 1187], yTitleX: 488, xTitleY: 1220, kind: 'phase',
    xTitle: 'Dimensionless displacement', yTitle: 'Dimensionless velocity',
    xMin: -0.06, xMax: 0.06, yMin: -0.2, yMax: 0.2, xTicks: kXTicks, yTicks: kYTicks, xDec: 2, yDec: 2,
    blue: pts(kBlueX, kBlueY), red: pts(kRedX, kRedY),
    anns: [
      { t: LEGEND_BLUE, x: -0.00455, y: 0.0353, c: BL },
      { t: LEGEND_RED, x: -0.025, y: -0.16, c: RL },
    ],
    arrows: [
      { x0: -0.00285, y0: 0.0455, x1: 0.00228, y1: 0.089, c: BL },
      { x0: -0.0245, y0: -0.149, x1: -0.0194, y1: -0.103, c: RL },
    ],
  },
  {
    tag: '(l)', col: 2, plot: [1003, 926, 1355, 1186], yTitleX: 957, xTitleY: 1219, kind: 'fft',
    xTitle: 'Dimensionless frequency', yTitle: 'Amplitude',
    xMin: 0.1, xMax: 25, yMin: 1e-7, yMax: 1, xTicks: freqTicks, yTicks: lYTicks, xDec: 1, yDec: 0,
    blue: pts(lBlueF, lBlueA), red: pts(lRedF, lRedA),
    legend: { x0: 1195, x1: 1223, tx: 1225, y1: 939, y2: 954 },
    anns: [
      { t: O, x: 0.29, y: 4.5e-2, c: BL }, { t: OP, x: 0.357, y: 5.5e-2, c: RL },
      { t: '3' + O, x: 0.855, y: 3.6e-3, c: BL }, { t: '3' + OP, x: 1.04, y: 1.0e-2, c: RL },
      { t: '5' + OP, x: 1.78, y: 9.3e-4, c: RL }, { t: '5' + O, x: 1.44, y: 3.2e-4, c: BL },
      { t: '9' + O, x: 2.52, y: 3.4e-5, c: BL }, { t: '9' + OP, x: 3.22, y: 3.4e-5, c: RL },
      { t: '7' + OP, x: 2.44, y: 1.85e-5, c: RL },
    ],
    arrows: [],
  },
];

type Geom = {
  x: number; y: number; w: number; h: number;
  padTop: number; padRight: number; yAxisW: number; xAxisH: number;
  xTitlePad: number;
};

function geom(p: Panel): Geom {
  const c = COLS[p.col];
  const [L, T, R, B] = p.plot;
  const y0 = Math.max(0, Math.floor(T) - 12);
  const y1 = Math.min(1231, Math.round(p.xTitleY + 11));
  return {
    x: c.x, y: y0, w: c.w, h: y1 - y0,
    padTop: T - y0, padRight: c.x + c.w - R,
    yAxisW: L - c.x, xAxisH: y1 - B,
    xTitlePad: y1 - p.xTitleY - 9.3,
  };
}

function minorValues(major: number[], log: boolean, min: number, max: number) {
  const out: number[] = [];
  if (log) {
    for (const m of major) {
      for (let k = 2; k < 10; k++) {
        const v = m * k;
        if (v > min && v < max) out.push(v);
      }
    }
  } else {
    for (let i = 0; i < major.length - 1; i++) out.push((major[i] + major[i + 1]) / 2);
  }
  return out;
}

function decorPlugin(p: Panel, g: Geom) {
  return {
    id: 'decor',
    afterDraw(chart: any) {
      const { ctx, chartArea: a } = chart;
      const xs = chart.scales.x;
      const ys = chart.scales.y;
      const isLog = p.kind === 'fft';
      ctx.save();
      ctx.setLineDash([]);
      // frame
      ctx.strokeStyle = FRAME;
      ctx.lineWidth = 1;
      const l = Math.round(a.left) + 0.5;
      const t = Math.round(a.top) + 0.5;
      const r = Math.round(a.right) + 0.5;
      const b = Math.round(a.bottom) + 0.5;
      ctx.strokeRect(l, t, r - l, b - t);
      // ticks
      ctx.beginPath();
      for (const v of p.xTicks) {
        const px = Math.round(xs.getPixelForValue(v)) + 0.5;
        ctx.moveTo(px, b); ctx.lineTo(px, b + 4);
      }
      for (const v of minorValues(p.xTicks, isLog, p.xMin, p.xMax)) {
        const px = Math.round(xs.getPixelForValue(v)) + 0.5;
        ctx.moveTo(px, b); ctx.lineTo(px, b + 2.5);
      }
      for (const v of p.yTicks) {
        const py = Math.round(ys.getPixelForValue(v)) + 0.5;
        ctx.moveTo(l, py); ctx.lineTo(l - 4, py);
      }
      for (const v of minorValues(p.yTicks, isLog, p.yMin, p.yMax)) {
        const py = Math.round(ys.getPixelForValue(v)) + 0.5;
        ctx.moveTo(l, py); ctx.lineTo(l - 2.5, py);
      }
      ctx.stroke();
      // y-axis title (slightly below the plot centre, as in the reference)
      ctx.save();
      ctx.translate(p.yTitleX - g.x, (a.top + a.bottom) / 2 + 9);
      ctx.rotate(-Math.PI / 2);
      ctx.font = TITLE_FONT;
      ctx.fillStyle = '#111';
      ctx.textAlign = 'center';
      ctx.textBaseline = 'middle';
      ctx.fillText(p.yTitle, 0, 0);
      ctx.restore();
      // panel tag
      ctx.fillStyle = '#222';
      ctx.font = `11px ${SERIF}`;
      ctx.textAlign = 'left';
      ctx.textBaseline = 'middle';
      ctx.fillText(p.tag, a.left + 8, a.top + 12);
      // legend
      if (p.legend) {
        const lg = p.legend;
        const x0 = lg.x0 - g.x, x1 = lg.x1 - g.x, tx = lg.tx - g.x;
        const y1 = lg.y1 - g.y, y2 = lg.y2 - g.y;
        ctx.lineWidth = 1.6;
        ctx.strokeStyle = BLUE;
        ctx.setLineDash(DASH_DOT);
        ctx.beginPath(); ctx.moveTo(x0, y1); ctx.lineTo(x1, y1); ctx.stroke();
        ctx.setLineDash([]);
        ctx.lineWidth = 2;
        ctx.strokeStyle = RED;
        ctx.beginPath(); ctx.moveTo(x0 - 3, y2); ctx.lineTo(x1, y2); ctx.stroke();
        ctx.fillStyle = '#222';
        ctx.font = `12px ${SERIF}`;
        ctx.fillText(LEGEND_BLUE, tx, y1);
        ctx.fillText(LEGEND_RED, tx, y2);
      }
      // annotations
      ctx.font = `12px ${SERIF}`;
      ctx.textAlign = 'center';
      for (const an of p.anns) {
        ctx.fillStyle = an.c;
        ctx.fillText(an.t, xs.getPixelForValue(an.x), ys.getPixelForValue(an.y));
      }
      // arrows
      for (const ar of p.arrows) {
        const ax0 = xs.getPixelForValue(ar.x0), ay0 = ys.getPixelForValue(ar.y0);
        const ax1 = xs.getPixelForValue(ar.x1), ay1 = ys.getPixelForValue(ar.y1);
        ctx.strokeStyle = ar.c;
        ctx.fillStyle = ar.c;
        ctx.lineWidth = 1;
        ctx.beginPath(); ctx.moveTo(ax0, ay0); ctx.lineTo(ax1, ay1); ctx.stroke();
        const ang = Math.atan2(ay1 - ay0, ax1 - ax0);
        const hl = 6;
        ctx.beginPath();
        ctx.moveTo(ax1, ay1);
        ctx.lineTo(ax1 - hl * Math.cos(ang - 0.35), ay1 - hl * Math.sin(ang - 0.35));
        ctx.lineTo(ax1 - hl * Math.cos(ang + 0.35), ay1 - hl * Math.sin(ang + 0.35));
        ctx.closePath();
        ctx.fill();
      }
      ctx.restore();
    },
  };
}

function buildConfig(p: Panel, g: Geom) {
  const isFft = p.kind === 'fft';
  const tickFont = { family: SERIF, size: 10 };
  const titleFont = { family: SERIF, size: 15.5, weight: 'bold' as const };
  const blueStyle = p.kind === 'phase'
    ? { borderColor: BLUE_SOLID, borderWidth: 2, borderDash: [] as number[] }
    : { borderColor: BLUE, borderWidth: 1.6, borderDash: DASH_DOT };
  const common = {
    showLine: true,
    pointRadius: 0,
    pointHoverRadius: 0,
    fill: false,
    tension: 0.4,
    cubicInterpolationMode: p.kind === 'phase' ? 'default' : 'monotone',
  };
  const xFmt = isFft
    ? (v: number) => (v < 1 ? v.toFixed(1) : String(Math.round(v)))
    : fixed(p.xDec);
  const yFmt = isFft ? powLabel : fixed(p.yDec);
  return {
    type: 'scatter',
    data: {
      datasets: [
        { ...common, ...blueStyle, data: p.blue, backgroundColor: blueStyle.borderColor, order: 1 },
        { ...common, data: p.red, borderColor: RED, backgroundColor: RED, borderWidth: isFft ? 1.8 : 2, borderDash: [], order: 0 },
      ],
    },
    options: {
      responsive: false,
      animation: false,
      devicePixelRatio: 1,
      events: [],
      layout: { padding: { top: g.padTop, right: g.padRight, left: 0, bottom: 0 } },
      plugins: { legend: { display: false }, tooltip: { enabled: false } },
      scales: {
        x: {
          type: isFft ? 'logarithmic' : 'linear',
          position: 'bottom',
          min: p.xMin,
          max: p.xMax,
          grid: { display: false, drawTicks: false },
          border: { display: false },
          ticks: { autoSkip: false, maxRotation: 0, padding: 6, font: tickFont, color: '#222', callback: (v: any) => xFmt(Number(v)) },
          title: { display: true, text: p.xTitle, font: titleFont, color: '#111', padding: { top: 0, bottom: g.xTitlePad } },
          afterBuildTicks: (s: any) => { s.ticks = p.xTicks.map((v) => ({ value: v })); },
          afterFit: (s: any) => { s.height = g.xAxisH; s.paddingLeft = 0; s.paddingRight = 0; },
        },
        y: {
          type: isFft ? 'logarithmic' : 'linear',
          position: 'left',
          min: p.yMin,
          max: p.yMax,
          grid: { display: false, drawTicks: false },
          border: { display: false },
          ticks: { autoSkip: false, padding: 7, font: tickFont, color: '#222', callback: (v: any) => yFmt(Number(v)) },
          title: { display: false },
          afterBuildTicks: (s: any) => { s.ticks = p.yTicks.map((v) => ({ value: v })); },
          afterFit: (s: any) => { s.width = g.yAxisW; s.paddingTop = 0; s.paddingBottom = 0; },
        },
      },
    },
    plugins: [decorPlugin(p, g)],
  };
}

function PanelChart({ p }: { p: Panel }) {
  const ref = useRef<HTMLCanvasElement>(null);
  const g = geom(p);
  useEffect(() => {
    if (!ref.current) return;
    const chart = new Chart(ref.current, buildConfig(p, g) as any);
    return () => chart.destroy();
  }, []);
  return (
    <canvas
      ref={ref}
      width={g.w}
      height={g.h}
      style={{ position: 'absolute', left: g.x, top: g.y, width: g.w, height: g.h }}
    />
  );
}

export default function App() {
  return (
    <div style={{ position: 'absolute', left: 0, top: 0, width: 1360, height: 1231, overflow: 'hidden', background: '#fff' }}>
      {panels.map((p) => (
        <PanelChart key={p.tag} p={p} />
      ))}
    </div>
  );
}
